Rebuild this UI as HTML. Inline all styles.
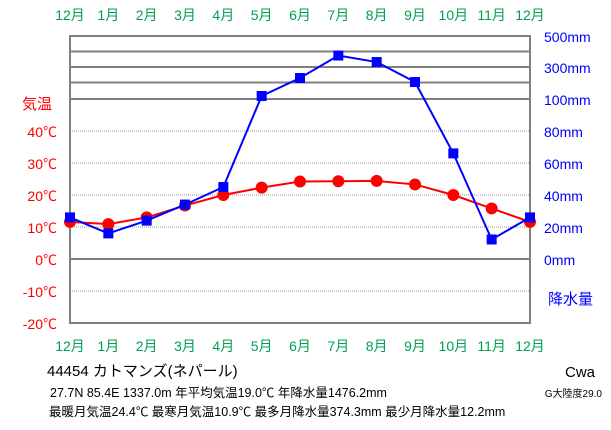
<!DOCTYPE html>
<html><head><meta charset="utf-8"><style>
body{margin:0;background:#fff;}
svg text{font-family:"Liberation Sans","Noto Sans CJK JP",sans-serif;}
</style></head><body>
<svg id="c" width="611" height="425" xmlns="http://www.w3.org/2000/svg"></svg>
<script>
const months=["12月","1月","2月","3月","4月","5月","6月","7月","8月","9月","10月","11月","12月"];
const temps=[11.6,10.9,13.0,16.7,20.0,22.3,24.2,24.3,24.4,23.3,20.0,15.8,11.6];
const precip=[26,16,24,34,45,113,229,374,332,203,66,12.2,26];
const tempTicks=[40,30,20,10,0,-10,-20];
const precipTicksLow=[80,60,40,20,0];
const precipTicksHigh=[500,300,100];
const NS="http://www.w3.org/2000/svg";
const svg=document.getElementById('c');
function mk(t,a,txt){const e=document.createElementNS(NS,t);for(const k in a)e.setAttribute(k,a[k]);if(txt!==undefined)e.textContent=txt;svg.appendChild(e);return e;}
const L=70,R=530,T=36,B=323;
function x(i){return L+i*(R-L)/12;}
function yT(v){return 259-v*3.2;}
function yP(v){return v<=100?259-v*1.6:98-(v-100)*0.155;}
tempTicks.forEach(v=>{if(v===0||v===-20)return;const l=mk('line',{x1:L,x2:R,y1:yT(v),y2:yT(v),stroke:'#999','stroke-dasharray':'1,1','stroke-width':1});

});
[100,200,300,400].forEach(v=>{const l=mk('line',{x1:L,x2:R,y1:yP(v),y2:yP(v),stroke:'#808080','stroke-width':2});

});
const z=mk('line',{x1:L,x2:R,y1:yT(0),y2:yT(0),stroke:'#808080','stroke-width':2});


const fr=mk('rect',{x:L,y:T,width:R-L,height:B-T,fill:'none',stroke:'#808080','stroke-width':2});


months.forEach((m,i)=>{[14,345].forEach(yy=>{const t=mk('text',{x:x(i),y:yy+6,'text-anchor':'middle','font-size':14,fill:'#00a050'},m);

});});
tempTicks.forEach(v=>{const t=mk('text',{x:57,y:yT(v)+6,'text-anchor':'end','font-size':14,fill:'#f00'},v+'℃');

});
precipTicksLow.concat(precipTicksHigh).forEach(v=>{const t=mk('text',{x:544,y:yP(v)+6,'font-size':14,fill:'#00f'},v+'mm');

});
let t1=mk('text',{x:22,y:109,'font-size':15,fill:'#f00'},'気温');
let t2=mk('text',{x:548,y:304,'font-size':15,fill:'#00f'},'降水量');
const tl=mk('polyline',{points:temps.map((v,i)=>x(i)+','+yT(v)).join(' '),fill:'none',stroke:'#f00','stroke-width':2});

temps.forEach((v,i)=>{const c=mk('circle',{cx:x(i),cy:yT(v),r:6,fill:'#f00'});

});
const pl=mk('polyline',{points:precip.map((v,i)=>x(i)+','+yP(v)).join(' '),fill:'none',stroke:'#00f','stroke-width':2});

precip.forEach((v,i)=>{const r=mk('rect',{x:x(i)-5,y:yP(v)-5,width:10,height:10,fill:'#00f'});

});
const info=[[47,376,15,'44454  カトマンズ(ネパール)'],[50,397,12.5,'27.7N  85.4E  1337.0m  年平均気温19.0℃  年降水量1476.2mm'],[49,416,12.5,'最暖月気温24.4℃ 最寒月気温10.9℃ 最多月降水量374.3mm 最少月降水量12.2mm']];
info.forEach(a=>{const t=mk('text',{x:a[0],y:a[1],'font-size':a[2],fill:'#000'},a[3]);

});
let k=mk('text',{x:595,y:377,'font-size':15,'text-anchor':'end',fill:'#000'},'Cwa');
let g=mk('text',{x:602,y:397,'font-size':10,'text-anchor':'end',fill:'#000'},'G大陸度29.0');
</script>
</body></html>
